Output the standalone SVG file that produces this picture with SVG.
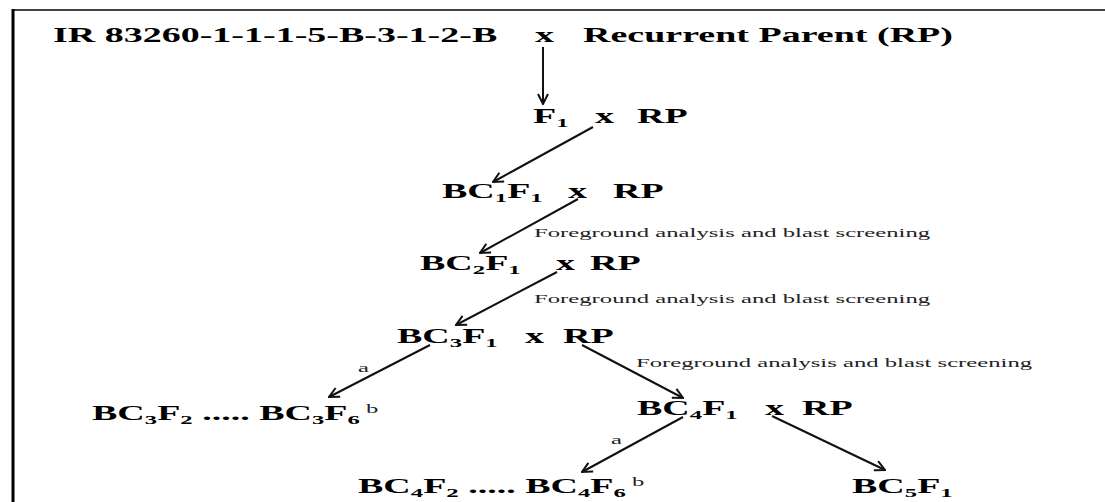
<svg xmlns="http://www.w3.org/2000/svg" width="1105" height="502" viewBox="0 0 1105 502">
<style>
.b{font-family:"Liberation Serif","Times New Roman",serif;font-weight:bold;font-size:20px;fill:#000}
.s{font-size:13px}
.r{font-family:"Liberation Serif","Times New Roman",serif;font-weight:normal;font-size:13px;fill:#222}
.ln{stroke:#111;stroke-width:2;fill:none;marker-end:url(#ah)}
</style>
<defs>
<marker id="ah" viewBox="0 0 12 12" refX="11" refY="6" markerWidth="12" markerHeight="12" markerUnits="userSpaceOnUse" orient="auto">
<path d="M1,1 L11,6 L1,11" fill="none" stroke="#111" stroke-width="2"/>
</marker>
</defs>
<rect width="1105" height="502" fill="#fff"/>
<g id="frame">
<line x1="12" y1="10" x2="1105" y2="10" stroke="#444" stroke-width="2"/>
<line x1="13" y1="9" x2="13" y2="502" stroke="#000" stroke-width="3"/>
</g>
<g id="connectors">
<line class="ln" x1="543" y1="47" x2="543" y2="104"/>
<line class="ln" x1="593" y1="127" x2="493" y2="182"/>
<line class="ln" x1="578" y1="199" x2="480" y2="253"/>
<line class="ln" x1="557" y1="272" x2="456" y2="325"/>
<line class="ln" x1="430" y1="345" x2="329" y2="397"/>
<line class="ln" x1="582" y1="345" x2="683" y2="398"/>
<line class="ln" x1="683" y1="417" x2="582" y2="472"/>
<line class="ln" x1="772" y1="416" x2="885" y2="470"/>
</g>
<g id="n-top">
<text class="b" transform="translate(53,42) scale(1.9,1)">IR 83260-1-1-1-5-B-3-1-2-B</text>
<text class="b" transform="translate(535,42) scale(1.9,1)">x</text>
<text class="b" transform="translate(583,42) scale(1.9,1)">Recurrent Parent (RP)</text>
</g>
<g id="n-f1">
<text class="b" transform="translate(533,123) scale(1.9,1)">F<tspan class="s" dy="4">1</tspan></text>
<text class="b" transform="translate(595,123) scale(1.9,1)">x</text>
<text class="b" transform="translate(637,123) scale(1.9,1)">RP</text>
</g>
<g id="n-bc1">
<text class="b" transform="translate(442,198) scale(1.9,1)">BC<tspan class="s" dy="4">1</tspan><tspan dy="-4">F</tspan><tspan class="s" dy="4">1</tspan></text>
<text class="b" transform="translate(568,198) scale(1.9,1)">x</text>
<text class="b" transform="translate(613,198) scale(1.9,1)">RP</text>
</g>
<g id="lbl1"><text class="r" transform="translate(534,237) scale(1.9,1)">Foreground analysis and blast screening</text></g>
<g id="n-bc2">
<text class="b" transform="translate(420,270) scale(1.9,1)">BC<tspan class="s" dy="4">2</tspan><tspan dy="-4">F</tspan><tspan class="s" dy="4">1</tspan></text>
<text class="b" transform="translate(556,270) scale(1.9,1)">x</text>
<text class="b" transform="translate(590,270) scale(1.9,1)">RP</text>
</g>
<g id="lbl2"><text class="r" transform="translate(534,303) scale(1.9,1)">Foreground analysis and blast screening</text></g>
<g id="n-bc3">
<text class="b" transform="translate(397,343) scale(1.9,1)">BC<tspan class="s" dy="4">3</tspan><tspan dy="-4">F</tspan><tspan class="s" dy="4">1</tspan></text>
<text class="b" transform="translate(525,343) scale(1.9,1)">x</text>
<text class="b" transform="translate(563,343) scale(1.9,1)">RP</text>
</g>
<g id="lbl3"><text class="r" transform="translate(636,367) scale(1.9,1)">Foreground analysis and blast screening</text></g>
<g id="lbl-a1"><text class="r" transform="translate(358,372) scale(1.9,1)">a</text></g>
<g id="n-bc3f2">
<text class="b" transform="translate(92,420) scale(1.9,1)">BC<tspan class="s" dy="4">3</tspan><tspan dy="-4">F</tspan><tspan class="s" dy="4">2</tspan><tspan dy="-4"> ..... BC</tspan><tspan class="s" dy="4">3</tspan><tspan dy="-4">F</tspan><tspan class="s" dy="4">6</tspan><tspan class="r" dy="-11"> b</tspan></text>
</g>
<g id="n-bc4">
<text class="b" transform="translate(637,415) scale(1.9,1)">BC<tspan class="s" dy="4">4</tspan><tspan dy="-4">F</tspan><tspan class="s" dy="4">1</tspan></text>
<text class="b" transform="translate(765,415) scale(1.9,1)">x</text>
<text class="b" transform="translate(802,415) scale(1.9,1)">RP</text>
</g>
<g id="lbl-a2"><text class="r" transform="translate(611,444) scale(1.9,1)">a</text></g>
<g id="n-bc4f2">
<text class="b" transform="translate(358,493) scale(1.9,1)">BC<tspan class="s" dy="4">4</tspan><tspan dy="-4">F</tspan><tspan class="s" dy="4">2</tspan><tspan dy="-4"> ..... BC</tspan><tspan class="s" dy="4">4</tspan><tspan dy="-4">F</tspan><tspan class="s" dy="4">6</tspan><tspan class="r" dy="-11"> b</tspan></text>
</g>
<g id="n-bc5">
<text class="b" transform="translate(852,493) scale(1.9,1)">BC<tspan class="s" dy="4">5</tspan><tspan dy="-4">F</tspan><tspan class="s" dy="4">1</tspan></text>
</g>
</svg>
